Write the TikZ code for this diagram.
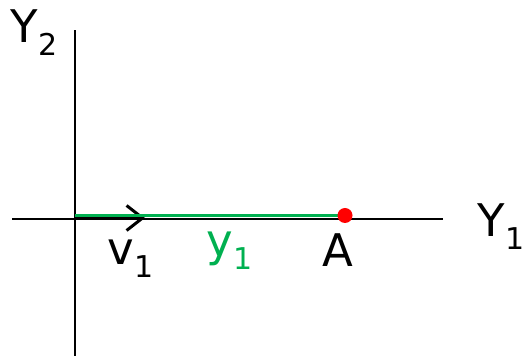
\documentclass[tikz,border=0pt]{standalone}
\usepackage{fontspec}
\setmainfont{DejaVu Sans}
\usetikzlibrary{arrows.meta,positioning}
\definecolor{pathgreen}{RGB}{0,176,80}
\newcommand{\lowsub}[1]{\kern1pt\raisebox{-12.5pt}{\fontsize{30}{30}\selectfont #1}}

\begin{document}
\begin{tikzpicture}[x=1pt,y=1pt,>=Latex,
  lbl/.style={inner sep=0pt,anchor=base west,font=\fontsize{45}{50}\selectfont}]
\useasboundingbox (0,0) rectangle (531,356);
\coordinate (o) at (75,138);
\coordinate (xl) at (12,137);
\coordinate (xr) at (443,137);
\coordinate (yt) at (75,326);
\coordinate (yb) at (75,0);
\coordinate (vtip) at (145,138);
\coordinate (og) at (75,140.5);
\coordinate (ag) at (345,140.5);
\draw[line width=1.8pt] (xl) -- (xr);
\draw[line width=1.3pt] (yb) -- (yt);
\draw[line width=3pt,-{Straight Barb[length=16pt,width=25pt,line width=3pt]}] (o) -- (vtip);
\draw[line width=3pt,pathgreen] (og) -- (ag);
\fill[red] (ag) circle (7.5);
\node[lbl] (ytwo) at (10,313) {Y\lowsub{2}};
\node[lbl] (yone) at (477,119) {Y\lowsub{1}};
\node[lbl] (vone) at (107,91) {v\lowsub{1}};
\node[lbl,text=pathgreen] (ypath) at (206,99) {y\lowsub{1}};
\node[lbl] (pta) at (322,89) {A};
\end{tikzpicture}
\end{document}
